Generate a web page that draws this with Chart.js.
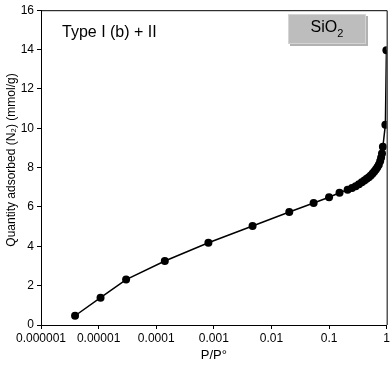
<!DOCTYPE html>
<html lang="en">
<head>
<meta charset="UTF-8">
<title>SiO2 isotherm</title>
<script src="https://cdn.jsdelivr.net/npm/chart.js"></script>
<style>
  body { margin: 0; background: #fff; }
  #wrap { width: 392px; height: 365px; }
</style>
</head>
<body>
<div id="wrap"><canvas id="grafico" width="392" height="365"></canvas></div>

<script>
    // relative pressure P/P0 and amount adsorbed (mmol/g)
    const pressao = [0.0000039, 0.0000108, 0.00003, 0.000141, 0.000805, 0.0047, 0.0204, 0.054, 0.1, 0.152, 0.21,
        0.25, 0.29, 0.33, 0.37, 0.41, 0.45, 0.49, 0.53, 0.57, 0.61, 0.65, 0.69, 0.73, 0.77, 0.80, 0.83, 0.86, 0.95, 0.99];
    const adsorvido = [0.47, 1.39, 2.31, 3.25, 4.18, 5.03, 5.74, 6.2, 6.49, 6.72, 6.88,
        6.96, 7.05, 7.15, 7.25, 7.35, 7.43, 7.51, 7.6, 7.7, 7.8, 7.9, 8.02, 8.15, 8.32, 8.5, 8.72, 9.06, 10.18, 13.97];

    const xTicks = [0.000001, 0.00001, 0.0001, 0.001, 0.01, 0.1, 1];
    const xTickLabels = ['0.000001', '0.00001', '0.0001', '0.001', '0.01', '0.1', '1'];
    const yTicks = [0, 2, 4, 6, 8, 10, 12, 14, 16];

    Chart.defaults.font.family = '"Liberation Sans", Arial, sans-serif';
    Chart.defaults.color = '#000';

    // top/right frame, y title, type label and the SiO2 box
    const extras = {
        id: 'extras',
        afterDraw(chart) {
            const ctx = chart.ctx;
            const a = chart.chartArea;
            ctx.save();
            ctx.strokeStyle = '#000';
            ctx.lineWidth = 1;
            ctx.beginPath();
            ctx.moveTo(a.left, a.top + 0.5);
            ctx.lineTo(a.right + 0.5, a.top + 0.5);
            ctx.lineTo(a.right + 0.5, a.bottom);
            ctx.stroke();

            // y axis title
            ctx.fillStyle = '#000';
            ctx.save();
            ctx.translate(12, 160);
            ctx.rotate(-Math.PI / 2);
            ctx.font = '12px "Liberation Sans", Arial, sans-serif';
            ctx.textAlign = 'center';
            ctx.textBaseline = 'middle';
            ctx.fillText('Quantity adsorbed (N₂) (mmol/g)', 0, 0);
            ctx.restore();

            ctx.font = '16px "Liberation Sans", Arial, sans-serif';
            ctx.textBaseline = 'middle';
            ctx.textAlign = 'left';
            ctx.fillText('Type I (b) + II', 62, 33);

            // box with shadow
            ctx.fillStyle = 'rgba(0,0,0,0.3)';
            ctx.fillRect(290, 16, 78, 30);
            ctx.fillStyle = '#bdbdbd';
            ctx.fillRect(288, 14, 78, 30);
            ctx.strokeStyle = '#d4d4d4';
            ctx.strokeRect(288.5, 14.5, 77, 29);

            ctx.fillStyle = '#000';
            ctx.font = '16px "Liberation Sans", Arial, sans-serif';
            const w1 = ctx.measureText('SiO').width;
            ctx.font = '11px "Liberation Sans", Arial, sans-serif';
            const w2 = ctx.measureText('2').width;
            const x0 = 327 - (w1 + w2) / 2;
            ctx.font = '16px "Liberation Sans", Arial, sans-serif';
            ctx.fillText('SiO', x0, 28);
            ctx.font = '11px "Liberation Sans", Arial, sans-serif';
            ctx.fillText('2', x0 + w1, 34);
            ctx.restore();
        }
    };

    new Chart(document.getElementById('grafico'), {
        type: 'scatter',
        data: {
            datasets: [{
                data: pressao.map((p, i) => ({ x: p, y: adsorvido[i] })),
                showLine: true,
                borderColor: '#000',
                borderWidth: 1.5,
                backgroundColor: '#000',
                pointRadius: 4,
                pointBorderWidth: 0,
                tension: 0
            }]
        },
        options: {
            responsive: false,
            animation: false,
            layout: { padding: { top: 7, right: 5, left: 0, bottom: 0 } },
            plugins: { legend: { display: false }, tooltip: { enabled: false } },
            scales: {
                x: {
                    type: 'logarithmic',
                    min: 0.000001,
                    max: 1,
                    afterBuildTicks: (axis) => { axis.ticks = xTicks.map(v => ({ value: v })); },
                    afterFit: (axis) => { axis.height = 40; },
                    ticks: {
                        autoSkip: false,
                        maxRotation: 0,
                        padding: 2,
                        font: { size: 12 },
                        callback: (v, i) => xTickLabels[i]
                    },
                    grid: { drawOnChartArea: false, drawTicks: true, tickLength: 4, color: '#000' },
                    border: { color: '#000', width: 1 },
                    title: { display: true, text: 'P/P°', font: { size: 13 }, padding: { top: 0, bottom: 2 } }
                },
                y: {
                    min: 0,
                    max: 16,
                    afterBuildTicks: (axis) => { axis.ticks = yTicks.map(v => ({ value: v })); },
                    afterFit: (axis) => { axis.width = 41; },
                    ticks: { padding: 3, font: { size: 12 } },
                    grid: { drawOnChartArea: false, drawTicks: true, tickLength: 4, color: '#000' },
                    border: { color: '#000', width: 1 }
                }
            }
        },
        plugins: [extras]
    });
</script>
</body>
</html>
